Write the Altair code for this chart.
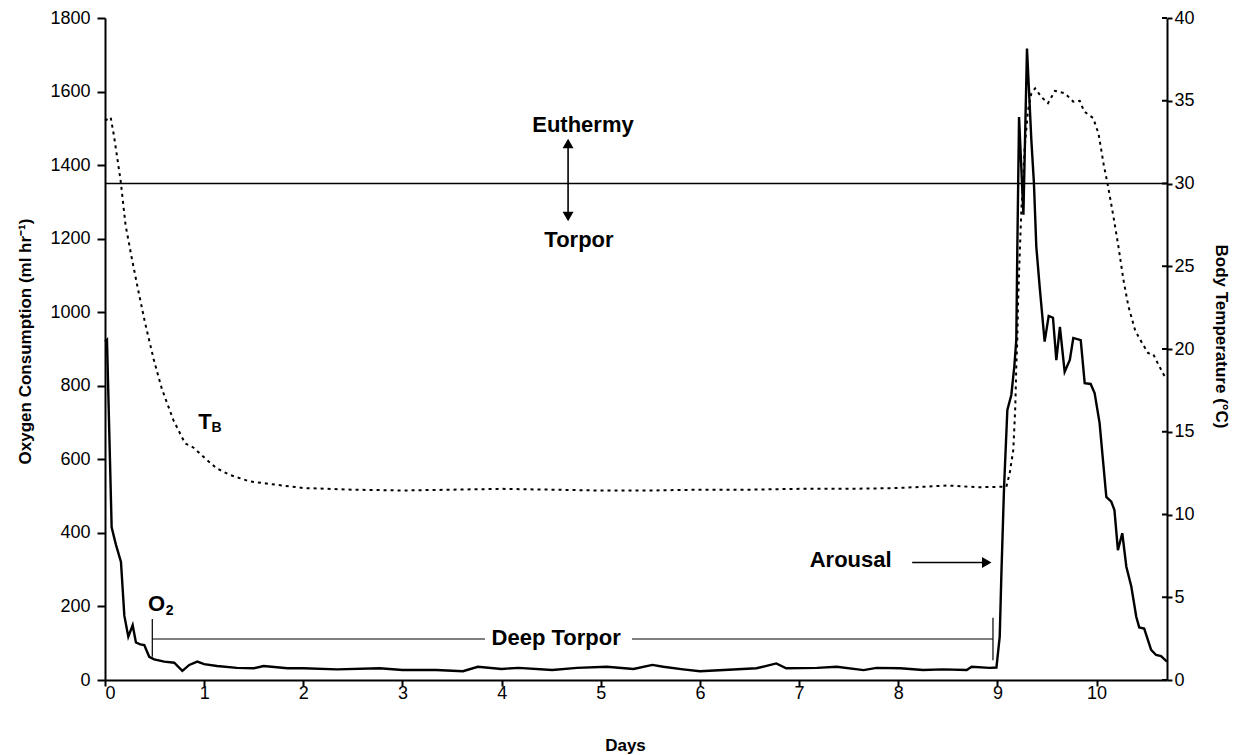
import altair as alt
import pandas as pd

# Oxygen consumption (ml/hr) through one torpor bout and the following arousal
o2_days = [0, 0.02, 0.067, 0.11, 0.161, 0.195, 0.235, 0.279, 0.312, 0.356, 0.396, 0.446,
           0.496, 0.597, 0.698, 0.78, 0.85, 0.93, 1.0, 1.13, 1.33, 1.5, 1.6, 1.84, 2.0,
           2.34, 2.77, 3.0, 3.34, 3.61, 3.76, 4.0, 4.17, 4.51, 4.76, 5.06, 5.33, 5.52,
           5.63, 5.83, 6.0, 6.24, 6.57, 6.77, 6.87, 7.18, 7.38, 7.65, 7.78, 8.02, 8.25,
           8.45, 8.69, 8.74, 8.92, 8.99, 9.023, 9.04, 9.067, 9.1, 9.14, 9.17, 9.19, 9.2,
           9.218, 9.262, 9.298, 9.342, 9.368, 9.392, 9.426, 9.476, 9.517, 9.56, 9.594,
           9.63, 9.678, 9.73, 9.765, 9.84, 9.88, 9.94, 9.98, 10.03, 10.098, 10.148, 10.18,
           10.215, 10.259, 10.3, 10.35, 10.4, 10.43, 10.48, 10.55, 10.6, 10.65, 10.71]
o2_ml = [920, 925, 415, 368, 321, 175, 118, 149, 102, 97, 95, 63,
         56, 50, 47, 25, 41, 50, 43, 38, 33, 32, 38, 32, 32,
         29, 32, 27, 27, 24, 36, 30, 33, 27, 33, 36, 30, 41,
         36, 29, 24, 27, 32, 45, 32, 33, 36, 27, 33, 32, 27,
         29, 27, 36, 33, 34, 118, 290, 526, 734, 775, 852, 924, 1160,
         1531, 1265, 1717, 1468, 1351, 1178, 1069, 920, 990, 985, 870,
         960, 838, 870, 930, 924, 807, 805, 780, 699, 498, 485, 462,
         353, 399, 308, 254, 172, 143, 140, 82, 68, 65, 50]

# Body temperature (deg C)
tb_days = [0, 0.057, 0.09, 0.157, 0.207, 0.273, 0.34, 0.407, 0.49, 0.573, 0.69, 0.807,
           0.89, 0.99, 1.123, 1.257, 1.457, 1.72, 2.0, 2.5, 3.0, 3.5, 4.0, 4.5, 5.0, 5.5,
           6.0, 6.5, 7.0, 7.5, 8.0, 8.5, 8.8, 9.09, 9.124, 9.16, 9.18, 9.19, 9.2, 9.208,
           9.225, 9.24, 9.258, 9.275, 9.308, 9.342, 9.38, 9.44, 9.51, 9.58, 9.68, 9.765,
           9.83, 9.875, 9.966, 10.02, 10.07, 10.11, 10.17, 10.22, 10.27, 10.32, 10.39,
           10.46, 10.52, 10.57, 10.62, 10.69, 10.71]
tb_c = [33.8, 34.0, 32.9, 30.2, 27.5, 25.4, 23.4, 21.5, 19.4, 17.6, 15.7, 14.3,
        14.05, 13.5, 12.8, 12.4, 12.0, 11.8, 11.6, 11.5, 11.45, 11.5, 11.55, 11.5, 11.45, 11.45,
        11.5, 11.5, 11.55, 11.55, 11.6, 11.75, 11.65, 11.68, 12.5, 13.9, 16.5, 18.9, 20.5, 22.8,
        25.8, 28.2, 30.2, 32.2, 34.4, 35.45, 35.75, 35.25, 34.85, 35.6, 35.45, 34.95,
        35.0, 34.35, 33.95, 33.0, 31.2, 30.0, 28.0, 26.2, 24.2, 22.6, 21.1,
        20.35, 19.75, 19.7, 19.1, 18.3, 18.2]

day_ticks = list(range(0, 11))
o2_ticks = list(range(0, 1801, 200))
tb_ticks = list(range(0, 41, 5))

EUTHERMY_LIMIT_C = [30]

# Text annotations, placed in (day, ml/hr) coordinates
label_text = ["Euthermy", "Torpor", "Deep Torpor", "Arousal", "O", "2", "T", "B"]
label_day = [4.82, 4.78, 4.55, 7.52, 0.521, 0.652, 1.008, 1.126]
label_o2 = [1509, 1196, 114, 326, 206, 187, 702, 686]
label_size = [22, 22, 22, 22, 22, 14, 22, 14]

# Bracket marking the deep torpor span
bracket_day = [0.477, 0.477, 5.315, 8.955]
bracket_day2 = [0.477, 3.832, 8.955, 8.955]
bracket_o2 = [166, 111.5, 111.5, 169]
bracket_o22 = [63, 111.5, 111.5, 54]

# Arrow shafts and heads
shaft_day = [4.67, 8.14]
shaft_day2 = [4.67, 8.88]
shaft_o2 = [1459, 319.5]
shaft_o22 = [1260, 319.5]
head_day = [4.67, 4.67, 8.892]
head_o2 = [1459, 1260, 319.5]
head_shape = ["triangle-up", "triangle-down", "triangle-right"]

FONT = "Liberation Sans"
W, H = 1062, 662
X_MAX = 10.71

x_scale = alt.Scale(domain=[0, X_MAX], nice=False, zero=False)
o2_scale = alt.Scale(domain=[0, 1800], nice=False)
tb_scale = alt.Scale(domain=[0, 40], nice=False)

axis_style = dict(
    labelFont=FONT, labelFontSize=18, labelColor="black",
    titleFont=FONT, titleFontSize=17, titleFontWeight="bold", titleColor="black",
    domainColor="black", domainWidth=2, tickColor="black", tickWidth=2, grid=False,
)

x_axis = alt.Axis(values=day_ticks, format="d", title="Days", tickSize=6, labelPadding=-2,
                  titleX=520, titleY=65, titleAlign="center", titleBaseline="middle",
                  **axis_style)
o2_axis = alt.Axis(values=o2_ticks, format="d", title="Oxygen Consumption (ml hr\u207b\u00b9)",
                   orient="left", tickSize=8, labelPadding=7,
                   titleX=-80, titleY=323, titleAngle=270, titleAlign="center",
                   titleBaseline="middle", **axis_style)
tb_axis = alt.Axis(values=tb_ticks, format="d", title="Body Temperature (°C)",
                   orient="right", tickSize=5, labelPadding=2,
                   titleX=53, titleY=318, titleAngle=90, titleAlign="center",
                   titleBaseline="middle", **axis_style)

o2_df = pd.DataFrame({"day": o2_days, "o2": o2_ml})
tb_df = pd.DataFrame({"day": tb_days, "tb": tb_c})
labels_df = pd.DataFrame({"text": label_text, "day": label_day, "o2": label_o2, "size": label_size})
bracket_df = pd.DataFrame({"day": bracket_day, "day2": bracket_day2, "o2": bracket_o2, "o22": bracket_o22})
shaft_df = pd.DataFrame({"day": shaft_day, "day2": shaft_day2, "o2": shaft_o2, "o22": shaft_o22})
head_df = pd.DataFrame({"day": head_day, "o2": head_o2, "shape": head_shape})
limit_df = pd.DataFrame({"t": EUTHERMY_LIMIT_C})
tb_tick_df = pd.DataFrame({"t": tb_ticks})

# The x scale is shared by every layer, so every layer declares the same axis
ax = alt.X("day:Q", scale=x_scale, axis=x_axis)
ay = alt.Y("o2:Q", scale=o2_scale, axis=None)

# Oxygen consumption, carrying the left axis
o2_line = alt.Chart(o2_df).mark_line(color="black", strokeWidth=2.4).encode(
    x=ax,
    y=alt.Y("o2:Q", scale=o2_scale, axis=o2_axis),
)

# Body temperature, carrying the right axis
tb_line = alt.Chart(tb_df).mark_line(color="black", strokeWidth=2, strokeDash=[3, 4]).encode(
    x=ax,
    y=alt.Y("tb:Q", scale=tb_scale, axis=tb_axis),
)

limit = alt.Chart(limit_df).mark_rule(color="black", strokeWidth=1.6).encode(
    y=alt.Y("t:Q", scale=tb_scale, axis=None)
)
inner_ticks = alt.Chart(tb_tick_df).mark_rule(color="black", strokeWidth=2).encode(
    y=alt.Y("t:Q", scale=tb_scale, axis=None),
    x=alt.value(W - 5),
    x2=alt.value(W),
)

bracket = alt.Chart(bracket_df).mark_rule(color="black", strokeWidth=1.2).encode(
    x=ax, x2="day2:Q", y=ay, y2="o22:Q"
)
shafts = alt.Chart(shaft_df).mark_rule(color="black", strokeWidth=1.6).encode(
    x=ax, x2="day2:Q", y=ay, y2="o22:Q"
)
heads = alt.Chart(head_df).mark_point(filled=True, color="black", opacity=1, size=120).encode(
    x=ax, y=ay, shape=alt.Shape("shape:N", scale=None)
)
labels = alt.Chart(labels_df).mark_text(
    font=FONT, fontWeight="bold", color="black", align="center", baseline="middle"
).encode(x=ax, y=ay, text="text:N", size=alt.Size("size:Q", scale=None))

chart = (
    alt.layer(o2_line, tb_line, limit, inner_ticks, bracket, shafts, heads, labels)
    .resolve_scale(y="independent")
    .properties(
        width=W,
        height=H,
        padding={"left": 105, "top": 18, "right": 74, "bottom": 75},
        autosize=alt.AutoSizeParams(type="none"),
        background="white",
    )
    .configure_view(stroke=None)
)

chart.save("out.html", embed_options={"renderer": "svg", "actions": False})
